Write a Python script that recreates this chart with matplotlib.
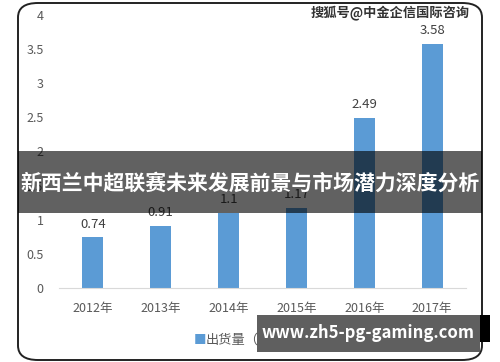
import matplotlib
matplotlib.use('Agg')
from matplotlib import pyplot as plt
from matplotlib.patches import FancyBboxPatch, Rectangle

plt.rcParams['font.family'] = ['Noto Sans CJK SC', 'DejaVu Sans']

# data
years = ['2012年', '2013年', '2014年', '2015年', '2016年', '2017年']
values = [0.74, 0.91, 1.1, 1.17, 2.49, 3.58]
value_labels = ['0.74', '0.91', '1.1', '1.17', '2.49', '3.58']
yticks = [0, 0.5, 1, 1.5, 2, 2.5, 3, 3.5, 4]
ytick_labels = ['0', '0.5', '1', '1.5', '2', '2.5', '3', '3.5', '4']

W, H = 500, 362
fig = plt.figure(figsize=(W/100, H/100), dpi=100)

def px(x0, y0, x1, y1):
    # pixel box (top-left origin) -> figure fraction rect
    return [x0/W, 1-y1/H, (x1-x0)/W, (y1-y0)/H]

# rounded frame around the chart
frame = FancyBboxPatch((18/W, 2/H), 464/W, 357/H,
                       boxstyle='round,pad=0,rounding_size=0.04',
                       transform=fig.transFigure, facecolor='white',
                       edgecolor='#222222', linewidth=1.4, zorder=-1)
fig.patches.append(frame)

ax = fig.add_axes(px(59, 15, 466, 288))
ax.set_zorder(2)
ax.set_facecolor('none')
x = range(len(years))
ax.bar(x, values, width=0.31, color='#5b9bd5', zorder=2)
for i, v in enumerate(values):
    ax.text(i, v + 0.1, value_labels[i], ha='center', va='bottom',
            fontsize=9.5, color='#404040')

ax.set_xlim(-0.5, 5.5)
ax.set_ylim(0, 4)
ax.set_yticks(yticks)
ax.set_yticklabels(ytick_labels)
ax.set_xticks(list(x))
ax.set_xticklabels(years)
ax.tick_params(axis='both', length=0, colors='#595959', labelsize=9)
ax.tick_params(axis='y', pad=11)
ax.tick_params(axis='x', pad=10)
for s in ['top', 'right', 'left']:
    ax.spines[s].set_visible(False)
ax.spines['bottom'].set_color('#d9d9d9')

# legend
fig.text(194/W, 1-340/H, '■', fontsize=9, color='#5b9bd5', va='center')
fig.text(206/W, 1-340/H, '出货量（亿台）', fontsize=9.5, color='#595959', va='center')

# watermark
fig.text(470/W, 1-13/H, '搜狐号@中金企信国际咨询', fontsize=9.5, color='#333333',
         ha='right', va='center', fontweight='bold')

# dark banner with title
fig.patches.append(Rectangle((18/W, 1-213/H), 464/W, 62/H, transform=fig.transFigure,
                             facecolor='black', alpha=0.62, zorder=5))
fig.text(250/W, 1-183/H, '新西兰中超联赛未来发展前景与市场潜力深度分析',
         fontsize=15, color='white', fontweight='bold', ha='center', va='center', zorder=6)

# bottom url box
fig.patches.append(Rectangle((480/W, 1-342/H), 10/W, 27/H, transform=fig.transFigure,
                             facecolor='black', zorder=5))
fig.patches.append(Rectangle((257/W, 1-352/H), 223/W, 37/H, transform=fig.transFigure,
                             facecolor='#5f5f5f', zorder=6))
fig.text(368/W, 1-333/H, 'www.zh5-pg-gaming.com', fontsize=12, color='white',
         fontweight='bold', ha='center', va='center', zorder=7)

fig.savefig('out.png', dpi=100)
